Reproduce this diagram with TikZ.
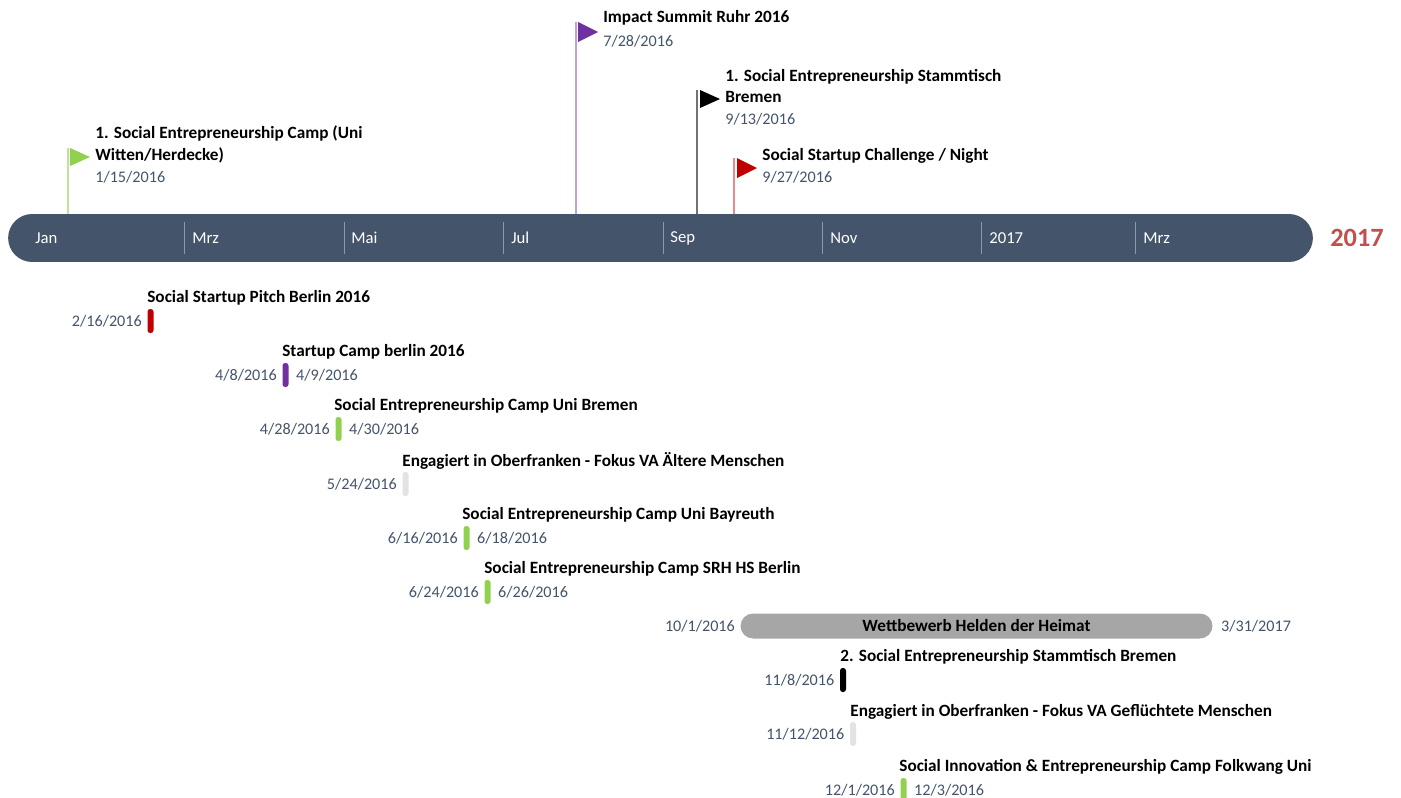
\documentclass[tikz,border=0pt]{standalone}
\usepackage{fontspec}
\setmainfont{Carlito}
\usetikzlibrary{positioning,shapes.misc}

\definecolor{slate}{HTML}{44546A}
\definecolor{sepline}{HTML}{8C98A8}
\definecolor{yearred}{HTML}{C0504D}
\definecolor{evred}{HTML}{C00000}
\definecolor{evpurple}{HTML}{7030A0}
\definecolor{evgreen}{HTML}{92D050}
\definecolor{evgray}{HTML}{E3E3E3}
\definecolor{spangray}{HTML}{A6A6A6}

\begin{document}
\begin{tikzpicture}[x=0.02cm, y=-0.02cm,
        title/.style={font=\fontsize{9.8}{12.5}\selectfont\bfseries, anchor=west, inner sep=0pt, align=left},
        date/.style={font=\fontsize{9.2}{11}\selectfont, text=slate, inner sep=0pt},
        month/.style={font=\fontsize{9.5}{11}\selectfont, text=white, anchor=west, inner sep=0pt},
        task/.style={rounded corners=1.5pt, minimum width=0.12cm, minimum height=0.48cm, inner sep=0pt},
        pole/.style={line width=0.6pt}]
    \useasboundingbox (0,0) rectangle (1401,798);

    % The time axis
    \node (bar) [rounded rectangle, fill=slate, minimum width=26.1cm, minimum height=0.96cm,
        inner sep=0pt] at (660.5,238) {};
    \foreach \x in {184,344,503,663,822,981,1135}
        \draw[sepline, line width=0.4pt] (\x,222) -- (\x,254);
    \foreach \x/\m in {35/Jan,192/Mrz,351/Mai,511/Jul,670/Sep,830/Nov,989/2017,1143/Mrz}
        \node[month] at (\x,238) {\m};
    \node (year) [font=\fontsize{15}{18}\selectfont\bfseries, text=yearred, anchor=west,
        inner sep=0pt] at (1330,238) {2017};

    % Milestones above the axis
    \coordinate (m1) at (68,148);
    \coordinate (m2) at (576,22);
    \coordinate (m3) at (697,90);
    \coordinate (m4) at (734,158);
    \draw[pole, evgreen!60] (m1) -- (m1 |- bar.north);
    \draw[pole, evpurple!45] (m2) -- (m2 |- bar.north);
    \draw[pole, black!55] (m3) -- (m3 |- bar.north);
    \draw[pole, evred!45] (m4) -- (m4 |- bar.north);
    \fill[evgreen] (m1) ++(2,0) -- ++(20,9) -- ++(-20,9) -- cycle;
    \fill[evpurple] (m2) ++(2,0) -- ++(20,10) -- ++(-20,10) -- cycle;
    \fill[black] (m3) ++(3,0) -- ++(20,9) -- ++(-20,9) -- cycle;
    \fill[evred] (m4) ++(3,0) -- ++(20,10) -- ++(-20,10) -- cycle;

    \node[title] (m1t) at (95,144) {1. Social Entrepreneurship Camp (Uni\\Witten/Herdecke)};
    \node[date, anchor=west] at (95,177) {1/15/2016};
    \node[title] (m2t) at (603,18) {Impact Summit Ruhr 2016};
    \node[date, anchor=west] at (603,41) {7/28/2016};
    \node[title] (m3t) at (725,86) {1. Social Entrepreneurship Stammtisch\\Bremen};
    \node[date, anchor=west] at (725,119) {9/13/2016};
    \node[title] (m4t) at (762,156) {Social Startup Challenge / Night};
    \node[date, anchor=west] at (762,177) {9/27/2016};

    % Tasks below the axis
    \node (t1) [task, fill=evred] at (150.5,321) {};
    \node[title] at (147,298) {Social Startup Pitch Berlin 2016};
    \node[date, left=0.1cm of t1] {2/16/2016};

    \node (t2) [task, fill=evpurple] at (285.5,375) {};
    \node[title] at (282,352) {Startup Camp berlin 2016};
    \node[date, left=0.1cm of t2] {4/8/2016};
    \node[date, right=0.14cm of t2] {4/9/2016};

    \node (t3) [task, fill=evgreen] at (338.5,429) {};
    \node[title] at (334,406) {Social Entrepreneurship Camp Uni Bremen};
    \node[date, left=0.1cm of t3] {4/28/2016};
    \node[date, right=0.14cm of t3] {4/30/2016};

    \node (t4) [task, fill=evgray] at (405.5,484) {};
    \node[title] at (402,461) {Engagiert in Oberfranken - Fokus VA Ältere Menschen};
    \node[date, left=0.1cm of t4] {5/24/2016};

    \node (t5) [task, fill=evgreen] at (466.5,538) {};
    \node[title] at (462,515) {Social Entrepreneurship Camp Uni Bayreuth};
    \node[date, left=0.1cm of t5] {6/16/2016};
    \node[date, right=0.14cm of t5] {6/18/2016};

    \node (t6) [task, fill=evgreen] at (487.5,592) {};
    \node[title] at (484,569) {Social Entrepreneurship Camp SRH HS Berlin};
    \node[date, left=0.1cm of t6] {6/24/2016};
    \node[date, right=0.14cm of t6] {6/26/2016};

    \node (span) [rounded rectangle, fill=spangray, minimum width=9.44cm, minimum height=0.5cm,
        inner sep=0pt, font=\fontsize{9.8}{11}\selectfont\bfseries] at (976.5,626)
        {Wettbewerb Helden der Heimat};
    \node[date, left=0.1cm of span] {10/1/2016};
    \node[date, right=0.16cm of span] {3/31/2017};

    \node (t7) [task, fill=black] at (843,680) {};
    \node[title] at (840,657) {2. Social Entrepreneurship Stammtisch Bremen};
    \node[date, left=0.1cm of t7] {11/8/2016};

    \node (t8) [task, fill=evgray] at (853,734) {};
    \node[title] at (850,712) {Engagiert in Oberfranken - Fokus VA Geflüchtete Menschen};
    \node[date, left=0.1cm of t8] {11/12/2016};

    \node (t9) [task, fill=evgreen] at (903.5,790) {};
    \node[title] at (899,767) {Social Innovation \& Entrepreneurship Camp Folkwang Uni};
    \node[date, left=0.1cm of t9] {12/1/2016};
    \node[date, right=0.14cm of t9] {12/3/2016};
\end{tikzpicture}
\end{document}
